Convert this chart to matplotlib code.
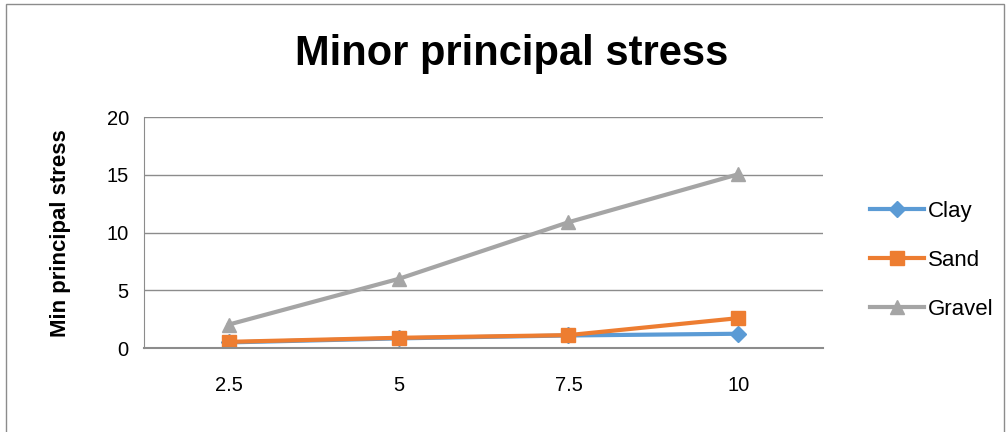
import matplotlib.pyplot as plt
from matplotlib.patches import Rectangle

# data
categories = ["2.5", "5", "7.5", "10"]
clay = [0.5, 0.85, 1.1, 1.25]
sand = [0.55, 0.9, 1.13, 2.6]
gravel = [2.05, 6.0, 10.9, 15.05]

fonts = ["Liberation Sans Narrow", "Liberation Sans", "DejaVu Sans"]
plt.rcParams["font.family"] = fonts

fig = plt.figure(figsize=(10.08, 4.32), dpi=100)
ax = fig.add_axes([0.143, 0.194, 0.6735, 0.535])

x = list(range(len(categories)))
ax.plot(x, clay, color="#5b9bd5", lw=3, marker="D", ms=8, label="Clay")
ax.plot(x, sand, color="#ed7d31", lw=3, marker="s", ms=10, label="Sand")
ax.plot(x, gravel, color="#a5a5a5", lw=3, marker="^", ms=10, label="Gravel")

# move gravel to the back like the reference (clay/sand drawn over it)
ax.lines[2].set_zorder(1)

ax.set_xlim(-0.5, len(categories) - 0.5)
ax.set_ylim(0, 20)
ax.set_yticks([0, 5, 10, 15, 20])
ax.set_xticks(x)
ax.set_xticklabels(categories)
ax.tick_params(axis="both", length=0, labelsize=14.5, colors="black")
ax.tick_params(axis="x", pad=20)
ax.tick_params(axis="y", pad=11)
ax.grid(axis="y", color="#8c8c8c", lw=1)
ax.set_axisbelow(True)
for s in ["top", "right"]:
    ax.spines[s].set_visible(False)
ax.spines["left"].set_color("#8c8c8c")
ax.spines["bottom"].set_color("#8c8c8c")
ax.spines["bottom"].set_linewidth(1.5)

ax.set_ylabel("Min principal stress", fontsize=16, fontweight="bold", labelpad=26)
fig.text(0.508, 0.875, "Minor principal stress", ha="center", va="center",
         fontsize=30, fontweight="bold")

ax.legend(loc="center left", bbox_to_anchor=(1.04, 0.38), frameon=False,
          fontsize=16, handlelength=2.4, labelspacing=1.25, handletextpad=0.2)

fig.patches.append(Rectangle((0.006, -0.01), 0.99, 1.0, transform=fig.transFigure,
                             fill=False, edgecolor="#8c8c8c", lw=1))

fig.savefig("out.png", dpi=100)
